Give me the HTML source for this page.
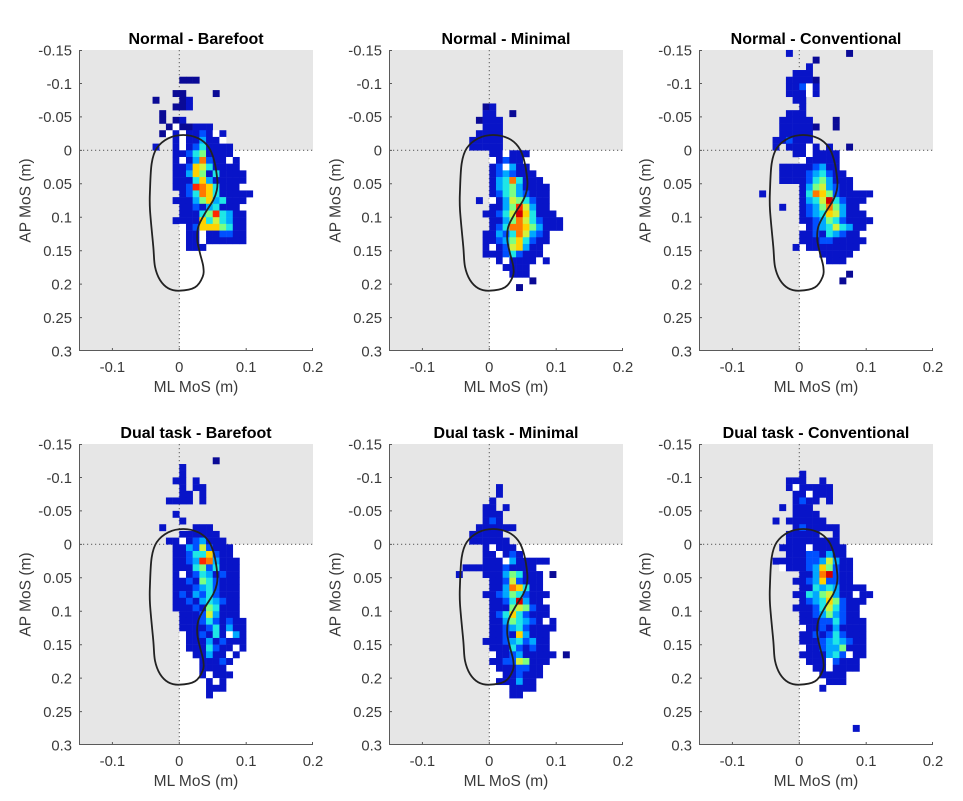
<!DOCTYPE html>
<html><head><meta charset="utf-8">
<style>
html,body{margin:0;padding:0;background:#fff;}
svg{display:block;}
text{font-family:"Liberation Sans",Arial,sans-serif;}
.tk{font-size:14.8px;fill:#3a3a3a;}
.lb{font-size:15.5px;fill:#3a3a3a;}
.tt{font-size:16px;font-weight:bold;fill:#000;}
.dot{stroke:#666;stroke-width:1.1;stroke-dasharray:1.2 2.8;fill:none;}
.ax{stroke:#5a5a5a;stroke-width:1;fill:none;}
.foot{stroke:#222;stroke-width:1.8;fill:none;}
.bg{fill:#e6e6e6;}
</style></head><body>
<svg width="963" height="801" viewBox="0 0 963 801" xmlns="http://www.w3.org/2000/svg">
<rect width="963" height="801" fill="#fff"/>

<g id="p0" transform="translate(79,50)">
<rect class="bg" x="0" y="0" width="100.3" height="301"/><rect class="bg" x="100.3" y="0" width="133.7" height="100.3"/>
<line class="dot" x1="100.3" y1="0" x2="100.3" y2="301"/><line class="dot" x1="0" y1="100.3" x2="234" y2="100.3"/>
<g class="cells"></g><path class="foot"/>
<path class="ax" d="M0.5,0V300.5H234"/>
<path class="ax" d="M0,0.5h3M0,33.45h3M0,66.9h3M0,100.35h3M0,133.8h3M0,167.25h3M0,200.7h3M0,234.15h3M0,267.6h3M33.4,301v-3M100.3,301v-3M167.2,301v-3M233.5,301v-3"/>
<g class="tk" text-anchor="end"><text x="-7" y="5.3">-0.15</text><text x="-7" y="38.75">-0.1</text><text x="-7" y="72.2">-0.05</text><text x="-7" y="105.65">0</text><text x="-7" y="139.1">0.05</text><text x="-7" y="172.55">0.1</text><text x="-7" y="206">0.15</text><text x="-7" y="239.45">0.2</text><text x="-7" y="272.9">0.25</text><text x="-7" y="306.3">0.3</text></g>
<g class="tk" text-anchor="middle"><text x="33.4" y="322">-0.1</text><text x="100.3" y="322">0</text><text x="167.2" y="322">0.1</text><text x="234" y="322">0.2</text></g>
<text class="lb" x="117" y="342" text-anchor="middle">ML MoS (m)</text>
<text class="lb" transform="translate(-48.5,150.5) rotate(-90)" text-anchor="middle">AP MoS (m)</text>
<text class="tt" x="117" y="-6" text-anchor="middle">Normal - Barefoot</text>
</g>

<g id="p1" transform="translate(389,50)">
<rect class="bg" x="0" y="0" width="100.3" height="301"/><rect class="bg" x="100.3" y="0" width="133.7" height="100.3"/>
<line class="dot" x1="100.3" y1="0" x2="100.3" y2="301"/><line class="dot" x1="0" y1="100.3" x2="234" y2="100.3"/>
<g class="cells"></g><path class="foot"/>
<path class="ax" d="M0.5,0V300.5H234"/>
<path class="ax" d="M0,0.5h3M0,33.45h3M0,66.9h3M0,100.35h3M0,133.8h3M0,167.25h3M0,200.7h3M0,234.15h3M0,267.6h3M33.4,301v-3M100.3,301v-3M167.2,301v-3M233.5,301v-3"/>
<g class="tk" text-anchor="end"><text x="-7" y="5.3">-0.15</text><text x="-7" y="38.75">-0.1</text><text x="-7" y="72.2">-0.05</text><text x="-7" y="105.65">0</text><text x="-7" y="139.1">0.05</text><text x="-7" y="172.55">0.1</text><text x="-7" y="206">0.15</text><text x="-7" y="239.45">0.2</text><text x="-7" y="272.9">0.25</text><text x="-7" y="306.3">0.3</text></g>
<g class="tk" text-anchor="middle"><text x="33.4" y="322">-0.1</text><text x="100.3" y="322">0</text><text x="167.2" y="322">0.1</text><text x="234" y="322">0.2</text></g>
<text class="lb" x="117" y="342" text-anchor="middle">ML MoS (m)</text>
<text class="lb" transform="translate(-48.5,150.5) rotate(-90)" text-anchor="middle">AP MoS (m)</text>
<text class="tt" x="117" y="-6" text-anchor="middle">Normal - Minimal</text>
</g>

<g id="p2" transform="translate(699,50)">
<rect class="bg" x="0" y="0" width="100.3" height="301"/><rect class="bg" x="100.3" y="0" width="133.7" height="100.3"/>
<line class="dot" x1="100.3" y1="0" x2="100.3" y2="301"/><line class="dot" x1="0" y1="100.3" x2="234" y2="100.3"/>
<g class="cells"></g><path class="foot"/>
<path class="ax" d="M0.5,0V300.5H234"/>
<path class="ax" d="M0,0.5h3M0,33.45h3M0,66.9h3M0,100.35h3M0,133.8h3M0,167.25h3M0,200.7h3M0,234.15h3M0,267.6h3M33.4,301v-3M100.3,301v-3M167.2,301v-3M233.5,301v-3"/>
<g class="tk" text-anchor="end"><text x="-7" y="5.3">-0.15</text><text x="-7" y="38.75">-0.1</text><text x="-7" y="72.2">-0.05</text><text x="-7" y="105.65">0</text><text x="-7" y="139.1">0.05</text><text x="-7" y="172.55">0.1</text><text x="-7" y="206">0.15</text><text x="-7" y="239.45">0.2</text><text x="-7" y="272.9">0.25</text><text x="-7" y="306.3">0.3</text></g>
<g class="tk" text-anchor="middle"><text x="33.4" y="322">-0.1</text><text x="100.3" y="322">0</text><text x="167.2" y="322">0.1</text><text x="234" y="322">0.2</text></g>
<text class="lb" x="117" y="342" text-anchor="middle">ML MoS (m)</text>
<text class="lb" transform="translate(-48.5,150.5) rotate(-90)" text-anchor="middle">AP MoS (m)</text>
<text class="tt" x="117" y="-6" text-anchor="middle">Normal - Conventional</text>
</g>

<g id="p3" transform="translate(79,444)">
<rect class="bg" x="0" y="0" width="100.3" height="301"/><rect class="bg" x="100.3" y="0" width="133.7" height="100.3"/>
<line class="dot" x1="100.3" y1="0" x2="100.3" y2="301"/><line class="dot" x1="0" y1="100.3" x2="234" y2="100.3"/>
<g class="cells"></g><path class="foot"/>
<path class="ax" d="M0.5,0V300.5H234"/>
<path class="ax" d="M0,0.5h3M0,33.45h3M0,66.9h3M0,100.35h3M0,133.8h3M0,167.25h3M0,200.7h3M0,234.15h3M0,267.6h3M33.4,301v-3M100.3,301v-3M167.2,301v-3M233.5,301v-3"/>
<g class="tk" text-anchor="end"><text x="-7" y="5.3">-0.15</text><text x="-7" y="38.75">-0.1</text><text x="-7" y="72.2">-0.05</text><text x="-7" y="105.65">0</text><text x="-7" y="139.1">0.05</text><text x="-7" y="172.55">0.1</text><text x="-7" y="206">0.15</text><text x="-7" y="239.45">0.2</text><text x="-7" y="272.9">0.25</text><text x="-7" y="306.3">0.3</text></g>
<g class="tk" text-anchor="middle"><text x="33.4" y="322">-0.1</text><text x="100.3" y="322">0</text><text x="167.2" y="322">0.1</text><text x="234" y="322">0.2</text></g>
<text class="lb" x="117" y="342" text-anchor="middle">ML MoS (m)</text>
<text class="lb" transform="translate(-48.5,150.5) rotate(-90)" text-anchor="middle">AP MoS (m)</text>
<text class="tt" x="117" y="-5.8" text-anchor="middle">Dual task - Barefoot</text>
</g>

<g id="p4" transform="translate(389,444)">
<rect class="bg" x="0" y="0" width="100.3" height="301"/><rect class="bg" x="100.3" y="0" width="133.7" height="100.3"/>
<line class="dot" x1="100.3" y1="0" x2="100.3" y2="301"/><line class="dot" x1="0" y1="100.3" x2="234" y2="100.3"/>
<g class="cells"></g><path class="foot"/>
<path class="ax" d="M0.5,0V300.5H234"/>
<path class="ax" d="M0,0.5h3M0,33.45h3M0,66.9h3M0,100.35h3M0,133.8h3M0,167.25h3M0,200.7h3M0,234.15h3M0,267.6h3M33.4,301v-3M100.3,301v-3M167.2,301v-3M233.5,301v-3"/>
<g class="tk" text-anchor="end"><text x="-7" y="5.3">-0.15</text><text x="-7" y="38.75">-0.1</text><text x="-7" y="72.2">-0.05</text><text x="-7" y="105.65">0</text><text x="-7" y="139.1">0.05</text><text x="-7" y="172.55">0.1</text><text x="-7" y="206">0.15</text><text x="-7" y="239.45">0.2</text><text x="-7" y="272.9">0.25</text><text x="-7" y="306.3">0.3</text></g>
<g class="tk" text-anchor="middle"><text x="33.4" y="322">-0.1</text><text x="100.3" y="322">0</text><text x="167.2" y="322">0.1</text><text x="234" y="322">0.2</text></g>
<text class="lb" x="117" y="342" text-anchor="middle">ML MoS (m)</text>
<text class="lb" transform="translate(-48.5,150.5) rotate(-90)" text-anchor="middle">AP MoS (m)</text>
<text class="tt" x="117" y="-5.8" text-anchor="middle">Dual task - Minimal</text>
</g>

<g id="p5" transform="translate(699,444)">
<rect class="bg" x="0" y="0" width="100.3" height="301"/><rect class="bg" x="100.3" y="0" width="133.7" height="100.3"/>
<line class="dot" x1="100.3" y1="0" x2="100.3" y2="301"/><line class="dot" x1="0" y1="100.3" x2="234" y2="100.3"/>
<g class="cells"></g><path class="foot"/>
<path class="ax" d="M0.5,0V300.5H234"/>
<path class="ax" d="M0,0.5h3M0,33.45h3M0,66.9h3M0,100.35h3M0,133.8h3M0,167.25h3M0,200.7h3M0,234.15h3M0,267.6h3M33.4,301v-3M100.3,301v-3M167.2,301v-3M233.5,301v-3"/>
<g class="tk" text-anchor="end"><text x="-7" y="5.3">-0.15</text><text x="-7" y="38.75">-0.1</text><text x="-7" y="72.2">-0.05</text><text x="-7" y="105.65">0</text><text x="-7" y="139.1">0.05</text><text x="-7" y="172.55">0.1</text><text x="-7" y="206">0.15</text><text x="-7" y="239.45">0.2</text><text x="-7" y="272.9">0.25</text><text x="-7" y="306.3">0.3</text></g>
<g class="tk" text-anchor="middle"><text x="33.4" y="322">-0.1</text><text x="100.3" y="322">0</text><text x="167.2" y="322">0.1</text><text x="234" y="322">0.2</text></g>
<text class="lb" x="117" y="342" text-anchor="middle">ML MoS (m)</text>
<text class="lb" transform="translate(-48.5,150.5) rotate(-90)" text-anchor="middle">AP MoS (m)</text>
<text class="tt" x="117" y="-5.8" text-anchor="middle">Dual task - Conventional</text>
</g>
</svg>

<script>
(function(){
var C={'1':'#0a0a96','2':'#0814c8','3':'#0050ff','4':'#00a8ff','5':'#1ee6e6','6':'#7cff82','7':'#d2f23c','8':'#ffd200','9':'#ff7800','r':'#ff2800','R':'#d20000','w':'#ffffff'};
var P=[
{imin:-4,jmin:-11,rows:[
"....111........",
"...............",
"...11....1.....",
"1...12.........",
"...112.........",
".1.............",
".1.12..........",
"..1w11222......",
".1w2w2232w2....",
"...2w22422w....",
"2..2w2352222...",
"...223562222...",
"...2w249322w2..",
"...2238752222..",
"...22486252222.",
"...22258422222.",
"...223r985222w.",
"....23598522222",
"...22246845222.",
"....223245222..",
"....22256r5422.",
"...22228575422.",
"....w238886522.",
".....22w223322.",
".....22w222222.",
".....222......."]},
{imin:-3,jmin:-7,rows:[
"..12...........",
"..22..1........",
".1222..........",
"..222..........",
".2222..........",
"22222..........",
"22222..........",
"...22w222......",
"...w2322.......",
"...23w422......",
"...2343222.....",
"...24595222....",
"...245642222...",
"...235643222...",
".2.w24765322...",
"...2246r7422...",
"..22357R85222..",
"...22469753222.",
"...23599864222.",
"..2243597432...",
"..2234685322...",
"..2w2378422....",
"..222353222....",
"....2w2222w2...",
".....2222......",
"......222......",
".........1.....",
".......1......."]},
{imin:-6,jmin:-15,rows:[
"....2........1...",
"........1........",
".......2.........",
".....222.........",
"....22221........",
"....223w2........",
"....222w2........",
".....22..........",
"......2..........",
"....222..........",
"...22222...1.....",
"...222221..1.....",
"...22222.........",
"..223222.........",
"..2.222w2.2..1...",
".....22w2222.....",
"......w22222.....",
"...222223422.....",
"...2222345322....",
"...22223564222...",
"......24674322...",
"2.....25986322222",
"......2457R53222.",
"...2..234696422w.",
"......2345874222.",
"......22346532222",
"......w234575422.",
"......223254322..",
"......2223322222.",
".....2.22222222..",
".........22222...",
"..........222....",
".................",
".............1...",
"............1...."]},
{imin:-4,jmin:-13,rows:[
".........1....",
"....2.........",
"....2.........",
"...22.2.......",
"....2.22......",
"....22.2......",
"..2222.2......",
"..............",
"...2..........",
"....2.........",
".2....222.....",
"....222222....",
"..22w234222...",
"...224373222..",
"...223558322..",
"...2234r94222.",
"...2225635222.",
"...2w23542322.",
"...2232653222.",
"...2223453222.",
"...2324353222.",
"...2232454322.",
"...2223265222.",
"....222374222.",
"....2223532322",
"....2222352422",
"....w223252w42",
".....222423222",
".....2225322w2",
"......22422w2.",
".......22232..",
".......2222...",
".......2w222..",
"........2w2...",
"........222...",
"........2....."]},
{imin:-5,jmin:-9,rows:[
"......2..........",
"......2..........",
".....2...........",
"....22.2.........",
"....222..........",
"....232..........",
"...222222........",
"..22222..........",
"..222222.........",
"....2w222........",
"....22w232.......",
"....222w422222...",
".22222232222.....",
"2...222465222.1..",
".....22373222....",
".....22498522....",
"....2234653222...",
".....2235R422....",
".....222676322...",
".....235853222...",
".....22465432w2..",
".....2234532222..",
".....223284222...",
"....2223453422...",
".....222532322...",
".....w223422222.1",
".....223376222...",
"......2223322....",
".......223222....",
"......222422.....",
"........2222.....",
"........22......."]},
{imin:-5,jmin:-11,rows:[
".....2..........",
"...222..2.......",
"...2w22222......",
"....22w222......",
"....2322.2......",
"..2.222.........",
"....2222........",
".2.222222.......",
"....2322222.....",
"...22222..2.....",
"...22222222.....",
"..2222w22222....",
"...222332422....",
".222223347422...",
"..w2223486322...",
".....2249R322...",
"....223483322...",
".....2254542222.",
"....225467422w22",
".....2345863222.",
"....2223575322..",
".....223464322..",
".....2223353222.",
"......223242222.",
".....2232353222.",
".....2223454322.",
".....w223446222.",
".....2222453w22.",
"......222w3222..",
".......22w2222..",
"........2222....",
".........222....",
"........2.......",
"","","","","",
".............2.."]}
];
var NS='http://www.w3.org/2000/svg';
var CW=6.686, CH=6.69, O=100.3;
P.forEach(function(p,k){
  var g=document.querySelector('#p'+k+' .cells');
  p.rows.forEach(function(row,r){
    for(var c=0;c<row.length;c++){
      var ch=row[c]; if(ch==='.'||!C[ch]) continue;
      var i=p.imin+c, j=p.jmin+r;
      var e=document.createElementNS(NS,'rect');
      e.setAttribute('x',(O+i*CW).toFixed(2));
      e.setAttribute('y',(O+j*CH).toFixed(2));
      e.setAttribute('width',(CW+0.25).toFixed(2));
      e.setAttribute('height',(CH+0.25).toFixed(2));
      e.setAttribute('fill',C[ch]);
      g.appendChild(e);
    }
  });
});
var F=[[4,-15.3],[19,-12],[29,-3.6],[34.7,9.7],[38,29.7],[37.5,40],[34,49.7],[25.7,63],[19,76.4],[18,89.7],[20.7,103],[24,116.4],[23.4,126.4],[15.7,137],[0,140.4],[-11,138],[-19.3,129.7],[-24.3,116.4],[-26,96.4],[-29.3,59.7],[-29.3,39.7],[-27.6,13],[-22.6,-2],[-11,-12]];
var n=F.length, d='';
function f(v){return v.toFixed(2);}
for(var k=0;k<n;k++){
  var p0=F[(k-1+n)%n],p1=F[k],p2=F[(k+1)%n],p3=F[(k+2)%n];
  if(k===0) d+='M'+f(p1[0]+O)+','+f(p1[1]+O);
  var c1x=p1[0]+(p2[0]-p0[0])/6, c1y=p1[1]+(p2[1]-p0[1])/6;
  var c2x=p2[0]-(p3[0]-p1[0])/6, c2y=p2[1]-(p3[1]-p1[1])/6;
  d+='C'+f(c1x+O)+','+f(c1y+O)+' '+f(c2x+O)+','+f(c2y+O)+' '+f(p2[0]+O)+','+f(p2[1]+O);
}
d+='Z';
var fs=document.querySelectorAll('.foot');
for(var q=0;q<fs.length;q++) fs[q].setAttribute('d',d);
})();
</script>
</body></html>
